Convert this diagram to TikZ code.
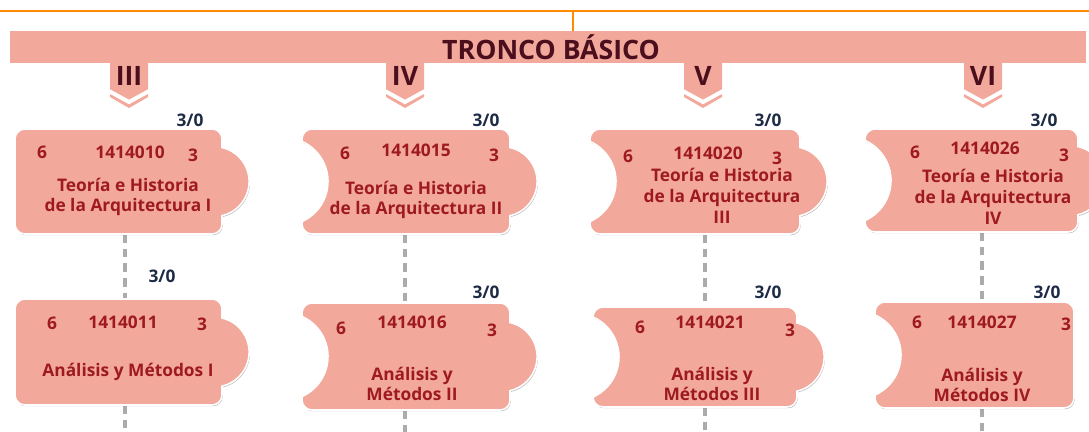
\documentclass[tikz,border=0pt]{standalone}
\usepackage{fontspec}
\setmainfont{Open Sans}
\usetikzlibrary{shadows}

\definecolor{salmon}{HTML}{F2A89B}
\definecolor{rojo}{HTML}{9E1A1F}
\definecolor{granate}{HTML}{4A0E1C}
\definecolor{azulosc}{HTML}{1E2B45}
\definecolor{naranja}{HTML}{FF8C00}
\definecolor{gris}{HTML}{ABABAB}

% right bump and left notch of a piece (R or L, middle y)
\newcommand{\bump}[2]{-- (#1,{#2-34}) arc[start angle=-77,end angle=77,radius=35]}
\newcommand{\notch}[2]{-- (#1,{#2+40}) arc[start angle=66,end angle=-66,radius=43.8]}
% piece: L, T, R, B, left side, right side
\newcommand{\Pieza}[6]{%
  \draw[pieza] ({#1+10},#2) -- ({#3-10},#2) arc[start angle=270,end angle=360,radius=10]
    #6 -- (#3,{#4-10}) arc[start angle=0,end angle=90,radius=10]
    -- ({#1+10},#4) arc[start angle=90,end angle=180,radius=10]
    #5 -- (#1,{#2+10}) arc[start angle=180,end angle=270,radius=10] -- cycle;}

\begin{document}
\begin{tikzpicture}[x=0.75pt,y=-0.75pt]
\tikzset{pieza/.style={fill=salmon, draw=white, line width=1.2pt,
                       drop shadow={shadow xshift=0.6pt, shadow yshift=-0.9pt,
                                    fill=black!50, opacity=0.6}},
         txt/.style={font=\bfseries\fontsize{13}{15.5}\selectfont, text=rojo,
                     inner sep=0pt, align=center},
         cred/.style={font=\bfseries\fontsize{13}{15}\selectfont, text=azulosc, inner sep=0pt},
         big/.style={font=\bfseries\fontsize{20}{22}\selectfont, text=granate, inner sep=0pt},
         conector/.style={draw=gris, line width=2.6pt, dash pattern=on 6.5pt off 4.5pt}
  }
\useasboundingbox (0,0) rectangle (1089,432);
\clip (0,0) rectangle (1089,432);

% trunk bar
\fill[salmon] (10,31) rectangle (1086,63);
\node[big] (tronco) at (551,47) {TRONCO BÁSICO};
\coordinate (raiz) at (573,11);
\draw[naranja, line width=1.5pt] (0,11) -- (1089,11);
\draw[naranja, line width=2.2pt] (raiz) -- (573,31);

% semester tabs
\foreach \x/\s in {129/III, 405/IV, 703/V, 983/VI}{
  \fill[salmon] ({\x-19},62) -- ({\x+19},62) -- ({\x+19},97) -- (\x,108) -- ({\x-19},97) -- cycle;
  \draw[white, line width=3pt] ({\x-21},90.5) -- (\x,102) -- ({\x+21},90.5);
  \node[big] (sem\s) at (\x,76) {\s};
}

% connectors
\coordinate (t1s) at (125,234); \coordinate (b1n) at (125,299); \coordinate (b1s) at (125,405); \coordinate (e1) at (125,432);
\coordinate (t2s) at (405,234); \coordinate (b2n) at (405,303); \coordinate (b2s) at (405,410); \coordinate (e2) at (405,432);
\coordinate (t3s) at (705,234); \coordinate (b3n) at (705,307); \coordinate (b3s) at (705,407); \coordinate (e3) at (705,432);
\coordinate (t4s) at (982,232); \coordinate (b4n) at (982,302); \coordinate (b4s) at (982,408); \coordinate (e4) at (982,432);
\foreach \i in {1,...,4}{
  \draw[conector] (t\i s) -- (b\i n);
  \draw[conector] (b\i s) -- (e\i);
}

%-----------------------------
\Pieza{15}{129}{222}{234}{}{\bump{222}{181.5}}
\Pieza{302}{129}{510}{234}{\notch{302}{181.5}}{\bump{510}{181.5}}
\Pieza{590}{129}{800}{234}{\notch{590}{181.5}}{\bump{800}{181.5}}
\Pieza{865}{129}{1078}{232}{\notch{865}{180.5}}{\bump{1078}{180.5}}
%-----------------------------
\Pieza{15}{299}{222}{405}{}{\bump{222}{352}}
\Pieza{302}{303}{510}{410}{\notch{302}{356.5}}{\bump{510}{356.5}}
\Pieza{593}{307}{797}{407}{\notch{593}{357}}{\bump{797}{357}}
\Pieza{875}{302}{1074}{408}{\notch{875}{355}}{}

%-----------------------------
\node[txt] (t1a) at (42,152) {6};
\node[txt] (t1b) at (130,152) {1414010};
\node[txt] (t1c) at (193,155) {3};
\node[txt] (t1d) at (128,197) {Teoría e Historia\\de la Arquitectura I};
\node[cred] (t1e) at (190,120) {3/0};

\node[txt] (t2a) at (345,153) {6};
\node[txt] (t2b) at (416,150) {1414015};
\node[txt] (t2c) at (494,155) {3};
\node[txt] (t2d) at (416,200) {Teoría e Historia\\de la Arquitectura II};
\node[cred] (t2e) at (486,120) {3/0};

\node[txt] (t3a) at (628,156) {6};
\node[txt] (t3b) at (708,153) {1414020};
\node[txt] (t3c) at (777,158) {3};
\node[txt] (t3d) at (722,196) {Teoría e Historia\\de la Arquitectura\\III};
\node[cred] (t3e) at (768,120) {3/0};

\node[txt] (t4a) at (915,152) {6};
\node[txt] (t4b) at (985,148) {1414026};
\node[txt] (t4c) at (1064,155) {3};
\node[txt] (t4d) at (993,197) {Teoría e Historia\\de la Arquitectura\\IV};
\node[cred] (t4e) at (1044,120) {3/0};
%-----------------------------
\node[txt] (b1a) at (52,323) {6};
\node[txt] (b1b) at (123,322) {1414011};
\node[txt] (b1c) at (202,324) {3};
\node[txt] (b1d) at (128,372) {Análisis y Métodos I};
\node[cred] (b1e) at (162,276) {3/0};

\node[txt] (b2a) at (341,328) {6};
\node[txt] (b2b) at (412,322) {1414016};
\node[txt] (b2c) at (492,330) {3};
\node[txt] (b2d) at (412,384) {Análisis y\\Métodos II};
\node[cred] (b2e) at (486,292) {3/0};

\node[txt] (b3a) at (640,327) {6};
\node[txt] (b3b) at (710,322) {1414021};
\node[txt] (b3c) at (790,330) {3};
\node[txt] (b3d) at (712,384) {Análisis y\\Métodos III};
\node[cred] (b3e) at (768,292) {3/0};

\node[txt] (b4a) at (917,322) {6};
\node[txt] (b4b) at (982,322) {1414027};
\node[txt] (b4c) at (1066,324) {3};
\node[txt] (b4d) at (982,385) {Análisis y\\Métodos IV};
\node[cred] (b4e) at (1047,292) {3/0};

\end{tikzpicture}
\end{document}
